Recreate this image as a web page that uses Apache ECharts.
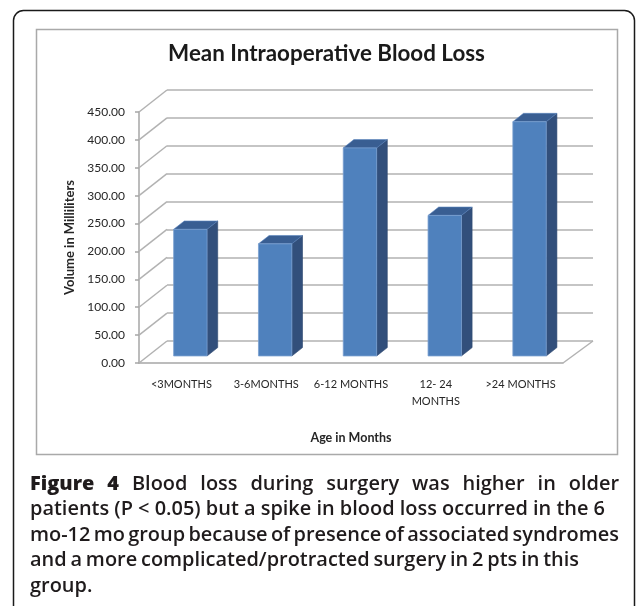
<!DOCTYPE html>
<html><head><meta charset="utf-8">
<script src="https://cdn.jsdelivr.net/npm/echarts@6/dist/echarts.min.js"></script>
<style>html,body{margin:0;padding:0;background:#fff}#c{width:637px;height:606px}</style>
</head><body><div id="c"></div>
<script>
// ---- data ----
const categories = ['<3MONTHS', '3-6MONTHS', '6-12 MONTHS', '12- 24\nMONTHS', '>24 MONTHS'];
const bloodLoss = [227, 201, 373, 252, 420];
const yTicks = [0, 50, 100, 150, 200, 250, 300, 350, 400, 450];
const chartTitle = 'Mean Intraoperative Blood Loss';
const xName = 'Age in Months';
const yName = 'Volume in Milliliters';
const captionLines = [
  'Figure 4 Blood loss during surgery was higher in older',
  'patients (P < 0.05) but a spike in blood loss occurred in the 6',
  'mo-12 mo group because of presence of associated syndromes',
  'and a more complicated/protracted surgery in 2 pts in this',
  'group.'
];

// ---- layout ----
const FRONT = {left: 139, top: 112, width: 424, height: 251};
const DEPTH = [28, -22];
const D0 = 0.32, D1 = 0.70, BAR_FRAC = 0.394;
const GRID_COLOR = '#b2b2b2';
const AXIS_COLOR = '#a6a6a6';
const TXT = '#262626';

const ctx = document.createElement('canvas').getContext('2d');
function measure(t, font) { ctx.font = font; return ctx.measureText(t).width; }

// title size to fit width
const TITLE_FAM = 'Lato';
const titleSize = 20 * 317 / measure(chartTitle, 'bold 20px Lato');

// caption
const CAP_FAM = '"Open Sans"';
const capSize = 17 * 575 / measure(captionLines[1], '600 17px "Open Sans"');
const capRight = [619, 605, 619, 579, null];
const capX0 = 30;
const capY = [484, 509.5, 535, 560.5, 586];
const captionGraphics = [];
captionLines.forEach((line, li) => {
  const words = line.split(' ');
  const fonts = words.map((w, wi) => (li === 0 && wi < 2 ? 800 : 600) + ' ' + capSize.toFixed(2) + 'px ' + CAP_FAM);
  const widths = words.map((w, wi) => measure(w, fonts[wi]));
  const total = widths.reduce((a, b) => a + b, 0);
  let gap = measure(' ', fonts[fonts.length - 1]);
  if (capRight[li] && words.length > 1) gap = (capRight[li] - capX0 - total) / (words.length - 1);
  let x = capX0;
  words.forEach((w, wi) => {
    captionGraphics.push({
      type: 'text', x: x, y: capY[li], silent: true,
      style: {text: w, font: fonts[wi], fill: '#1f1b1c', textAlign: 'left', textVerticalAlign: 'middle', align: 'left', verticalAlign: 'middle'}
    });
    x += widths[wi] + gap;
  });
});

const BACK = {left: FRONT.left + DEPTH[0], top: FRONT.top + DEPTH[1], width: FRONT.width + 2, height: FRONT.height};

const chart = echarts.init(document.getElementById('c'), null, {renderer: 'canvas', width: 637, height: 606});

chart.setOption({
  animation: false,
  backgroundColor: '#ffffff',
  grid: [
    {left: FRONT.left, top: FRONT.top, width: FRONT.width, height: FRONT.height},
    {left: BACK.left, top: BACK.top, width: BACK.width, height: BACK.height}
  ],
  xAxis: [
    {
      type: 'category', gridIndex: 0, data: categories,
      axisLine: {show: true, lineStyle: {color: AXIS_COLOR, width: 1.5}},
      axisTick: {show: false},
      axisLabel: {color: TXT, fontFamily: 'Lato', fontSize: 11, margin: 13, interval: 0, lineHeight: 17},
      splitLine: {show: false},
      name: xName, nameLocation: 'middle', nameGap: 68,
      nameTextStyle: {color: TXT, fontFamily: 'Lato', fontWeight: 'bold', fontSize: 12.5}
    },
    {type: 'category', gridIndex: 1, data: categories, show: false}
  ],
  yAxis: [
    {
      type: 'value', gridIndex: 0, min: 0, max: 450, interval: 50,
      axisLine: {show: true, lineStyle: {color: AXIS_COLOR, width: 1.5}},
      axisTick: {show: true, length: 4, lineStyle: {color: AXIS_COLOR, width: 1.5}},
      axisLabel: {color: TXT, fontFamily: 'Lato', fontSize: 12, margin: 14, formatter: v => v.toFixed(2)},
      splitLine: {show: false},
      name: yName, nameLocation: 'middle', nameGap: 62, nameRotate: 90,
      nameTextStyle: {color: TXT, fontFamily: 'Lato', fontWeight: 'bold', fontSize: 13}
    },
    {
      type: 'value', gridIndex: 1, min: 0, max: 450, interval: 50,
      axisLine: {show: false}, axisTick: {show: false}, axisLabel: {show: false},
      splitLine: {show: true, lineStyle: {color: GRID_COLOR, width: 1.5}}
    }
  ],
  graphic: [
    {type: 'rect', shape: {x: 13.5, y: 10.5, width: 621, height: 610, r: 10}, style: {fill: 'none', stroke: '#1a1a1a', lineWidth: 1.5}, silent: true, z: -10},
    {type: 'rect', shape: {x: 36.5, y: 29.5, width: 581, height: 425}, style: {fill: 'none', stroke: '#a9a9a9', lineWidth: 1.5}, silent: true, z: -10},
    {type: 'text', x: 326.5, y: 54, silent: true,
     style: {text: chartTitle, font: 'bold ' + titleSize.toFixed(2) + 'px ' + TITLE_FAM, fill: '#1a1a1a', textAlign: 'center', textVerticalAlign: 'middle', align: 'center', verticalAlign: 'middle'}}
  ].concat(captionGraphics),
  series: [
    {
      // depth diagonals of the side wall and floor
      type: 'custom', xAxisIndex: 0, yAxisIndex: 0, silent: true, z: 1,
      data: yTicks.map(v => [0, v]),
      renderItem: function (params, api) {
        const cs = params.coordSys;
        const p = api.coord([0, api.value(1)]);
        const x0 = cs.x;
        const children = [{
          type: 'line',
          shape: {x1: x0, y1: p[1], x2: x0 + DEPTH[0], y2: p[1] + DEPTH[1]},
          style: {stroke: GRID_COLOR, lineWidth: 1.5}
        }];
        if (api.value(1) === 0) {
          const xr = cs.x + cs.width;
          children.push({
            type: 'line',
            shape: {x1: xr, y1: p[1], x2: xr + DEPTH[0] + 2, y2: p[1] + DEPTH[1]},
            style: {stroke: GRID_COLOR, lineWidth: 1.5}
          });
        }
        return {type: 'group', children: children};
      }
    },
    {
      type: 'custom', xAxisIndex: 0, yAxisIndex: 0, z: 5,
      data: bloodLoss.map((v, i) => [i, v]),
      renderItem: function (params, api) {
        const i = api.value(0), v = api.value(1);
        const top = api.coord([i, v]);
        const bot = api.coord([i, 0]);
        const band = api.size([1, 0])[0];
        const w = band * BAR_FRAC;
        const xL = top[0] - w / 2 + DEPTH[0] * D0;
        const xR = xL + w;
        const yT = top[1] + DEPTH[1] * D0;
        const yB = bot[1] + DEPTH[1] * D0;
        const dx = DEPTH[0] * (D1 - D0), dy = DEPTH[1] * (D1 - D0);
        return {
          type: 'group',
          children: [
            {type: 'polygon', shape: {points: [[xR, yT], [xR + dx, yT + dy], [xR + dx, yB + dy], [xR, yB]]},
             style: {fill: '#324f7b', stroke: '#2c466f', lineWidth: 0.6}},
            {type: 'polygon', shape: {points: [[xL, yT], [xR, yT], [xR + dx, yT + dy], [xL + dx, yT + dy]]},
             style: {fill: '#395e92', stroke: '#5a84bf', lineWidth: 0.6}},
            {type: 'rect', shape: {x: xL, y: yT, width: w, height: yB - yT},
             style: {fill: '#4f81bd', stroke: '#7aa0d0', lineWidth: 0.8}}
          ]
        };
      }
    }
  ]
});
</script>
</body></html>
